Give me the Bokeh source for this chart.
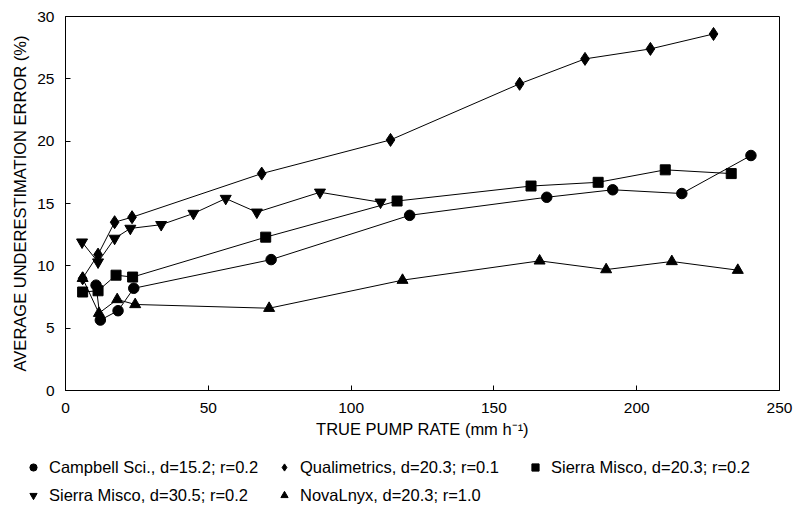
from bokeh.plotting import figure
from bokeh.layouts import column, row
from bokeh.models import Legend, LegendItem, FixedTicker, Range1d
from bokeh.embed import file_html
from bokeh.resources import INLINE

# Data
campbell_x = [10.7, 12.2, 18.4, 23.9, 72.0, 120.5, 168.5, 191.6, 215.8, 240.0]
campbell_y = [8.45, 5.65, 6.4, 8.2, 10.5, 14.05, 15.5, 16.1, 15.8, 18.85]

quali_x = [6.0, 11.4, 17.2, 23.3, 68.7, 113.8, 159.0, 181.9, 204.8, 226.9]
quali_y = [9.0, 10.9, 13.5, 13.9, 17.4, 20.1, 24.6, 26.6, 27.4, 28.6]

sierra203_x = [6.0, 11.4, 17.7, 23.5, 70.1, 116.1, 163.0, 186.5, 210.0, 233.1]
sierra203_y = [7.9, 8.0, 9.25, 9.1, 12.3, 15.2, 16.4, 16.7, 17.7, 17.4]

sierra305_x = [5.8, 11.4, 17.2, 22.7, 33.5, 44.8, 56.1, 67.0, 89.1, 110.3]
sierra305_y = [11.9, 10.3, 12.2, 13.0, 13.3, 14.2, 15.4, 14.3, 15.9, 15.1]

nova_x = [6.0, 11.7, 18.1, 24.4, 71.3, 118.0, 166.0, 189.3, 212.3, 235.4]
nova_y = [9.0, 6.2, 7.3, 6.9, 6.6, 8.85, 10.4, 9.7, 10.35, 9.65]

labels = [
    "Campbell Sci., d=15.2; r=0.2",
    "Qualimetrics, d=20.3; r=0.1",
    "Sierra Misco, d=20.3; r=0.2",
    "Sierra Misco, d=30.5; r=0.2",
    "NovaLnyx, d=20.3; r=1.0",
]
x_ticks = [0, 50, 100, 150, 200, 250]
y_ticks = [0, 5, 10, 15, 20, 25, 30]

FONT = "Liberation Sans"

p = figure(width=793, height=446, output_backend="svg", toolbar_location=None,
           x_range=Range1d(0, 250), y_range=Range1d(0, 30),
           min_border_left=65, min_border_right=14, min_border_top=16,
           min_border_bottom=56)
p.background_fill_color = "white"
p.border_fill_color = "white"
p.outline_line_color = "black"
p.outline_line_width = 1
p.xgrid.visible = False
p.ygrid.visible = False

for ax in (p.xaxis[0], p.yaxis[0]):
    ax.major_tick_in = 5
    ax.major_tick_out = 0
    ax.minor_tick_in = 0
    ax.minor_tick_out = 0
    ax.axis_line_color = "black"
    ax.major_tick_line_color = "black"
    ax.major_label_text_font = FONT
    ax.major_label_text_font_size = "15.5px"
    ax.major_label_text_color = "black"
    ax.axis_label_text_font = FONT
    ax.axis_label_text_font_size = "16.5px"
    ax.axis_label_text_font_style = "normal"
    ax.axis_label_text_color = "black"

p.xaxis.ticker = FixedTicker(ticks=x_ticks)
p.yaxis.ticker = FixedTicker(ticks=y_ticks)
p.xaxis.axis_label = "TRUE PUMP RATE (mm h\u207b\u00b9)"
p.yaxis.axis_label = "AVERAGE UNDERESTIMATION ERROR (%)"
p.xaxis.major_label_standoff = 12
p.xaxis.axis_label_standoff = 4
p.yaxis.major_label_standoff = 11
p.yaxis.axis_label_standoff = 5

series = [
    (campbell_x, campbell_y, "circle", 10.5),
    (quali_x, quali_y, "diamond", 13),
    (sierra203_x, sierra203_y, "square", 10),
    (sierra305_x, sierra305_y, "inverted_triangle", 11),
    (nova_x, nova_y, "triangle", 11),
]

# legend panel below the chart
lg = figure(width=793, height=62, output_backend="svg", toolbar_location=None,
            x_range=Range1d(0, 1), y_range=Range1d(0, 1),
            x_axis_type=None, y_axis_type=None,
            min_border_left=0, min_border_right=0, min_border_top=0,
            min_border_bottom=0)
lg.outline_line_color = None
lg.background_fill_color = "white"
lg.border_fill_color = "white"
lg.xgrid.visible = False
lg.ygrid.visible = False

nan = float("nan")
items = []
for (xs, ys, marker, size), lab in zip(series, labels):
    p.line(xs, ys, line_color="black", line_width=1)
    p.scatter(xs, ys, marker=marker, size=size,
              fill_color="black", line_color="black")
    key = lg.scatter(x=[nan], y=[nan], marker=marker, size=size,
                     fill_color="black", line_color="black")
    items.append(LegendItem(label=lab, renderers=[key]))

legend = Legend(items=items, ncols=3, location=(24, 0),
                orientation="horizontal",
                label_text_font=FONT, label_text_font_size="16.5px",
                label_text_color="black",
                glyph_width=18, glyph_height=26, label_height=26,
                label_width=224, label_standoff=7, spacing=2,
                padding=0, margin=0,
                border_line_color=None, background_fill_alpha=0)
lg.add_layout(legend, "center")

layout = column(p, row(lg), spacing=0)
open("out.html", "w").write(file_html(layout, INLINE))
